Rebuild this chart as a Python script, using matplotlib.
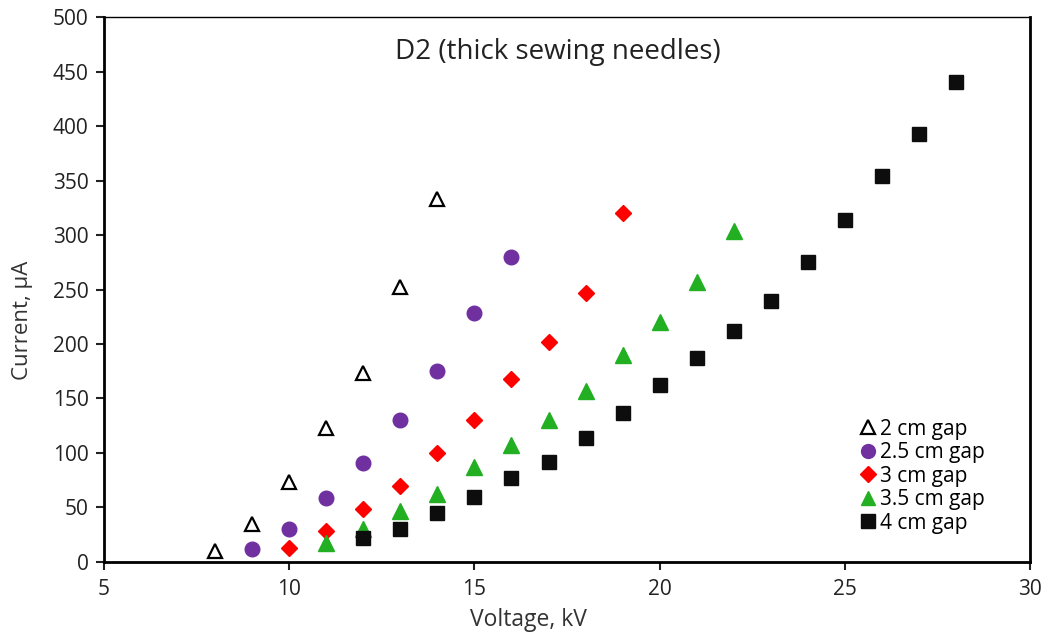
import matplotlib.pyplot as plt

plt.rcParams['font.family'] = ['Open Sans', 'DejaVu Sans']

# data
v2 = [8, 9, 10, 11, 12, 13, 14]
i2 = [10, 35, 73, 123, 173, 252, 333]
v25 = [9, 10, 11, 12, 13, 14, 15, 16]
i25 = [12, 30, 59, 91, 130, 175, 228, 280]
v3 = [10, 11, 12, 13, 14, 15, 16, 17, 18, 19]
i3 = [13, 28, 49, 70, 100, 130, 168, 202, 247, 320]
v35 = [11, 12, 13, 14, 15, 16, 17, 18, 19, 20, 21, 22]
i35 = [17, 30, 47, 62, 87, 107, 130, 157, 190, 220, 257, 304]
v4 = [12, 13, 14, 15, 16, 17, 18, 19, 20, 21, 22, 23, 24, 25, 26, 27, 28]
i4 = [22, 30, 45, 60, 77, 92, 114, 137, 162, 187, 212, 239, 275, 314, 354, 393, 440]

fig = plt.figure(figsize=(10.49, 6.4), dpi=100)
ax = fig.add_axes([0.0991, 0.1219, 0.8829, 0.8515])

ax.plot(v2, i2, '^', ms=10, mfc='white', mec='black', mew=1.6, ls='none', label='2 cm gap')
ax.plot(v25, i25, 'o', ms=10.5, color='#7030A0', ls='none', label='2.5 cm gap')
ax.plot(v3, i3, 'D', ms=8.5, color='#FF0000', ls='none', label='3 cm gap')
ax.plot(v35, i35, '^', ms=11, color='#22B022', ls='none', label='3.5 cm gap')
ax.plot(v4, i4, 's', ms=10.5, color='#0D0D0D', ls='none', label='4 cm gap')

ax.set_xlim(5, 30)
ax.set_ylim(0, 500)
ax.set_xticks(range(5, 31, 5))
ax.set_yticks(range(0, 501, 50))
ax.tick_params(direction='out', length=6, width=1.5, labelsize=15, colors='#222222')
ax.tick_params(axis='x', pad=6)
ax.tick_params(axis='y', pad=5)

for s in ['left', 'bottom', 'right']:
    ax.spines[s].set_linewidth(2)
ax.spines['top'].set_linewidth(1)

ax.set_xlabel('Voltage, kV', fontsize=16.5, color='#333333')
ax.set_ylabel('Current, µA', fontsize=16, color='#333333')
ax.xaxis.set_label_coords(0.458, -0.085)
ax.yaxis.set_label_coords(-0.077, 0.444)

ax.text(0.49, 0.962, 'D2 (thick sewing needles)', transform=ax.transAxes,
        ha='center', va='top', fontsize=20, color='#222222')

ax.legend(loc='lower left', bbox_to_anchor=(0.814, 0.052), frameon=False,
          fontsize=15, handletextpad=0.05, labelspacing=0.12, borderaxespad=0,
          borderpad=0, handlelength=1.0, markerscale=0.95)

fig.savefig('out.png', dpi=100)
